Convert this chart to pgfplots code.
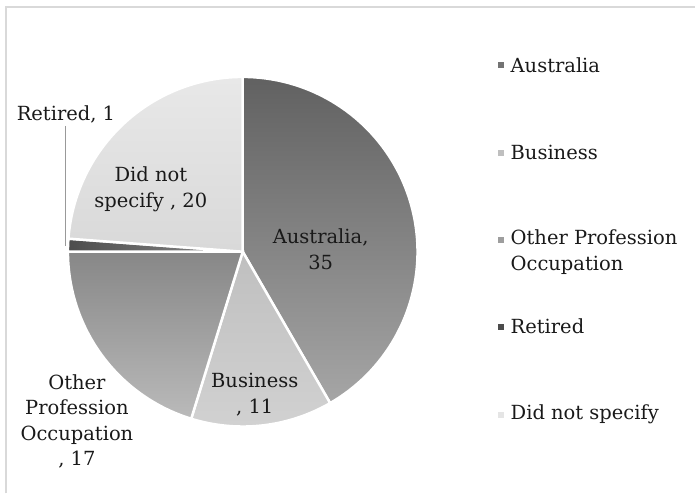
\documentclass[border=0pt]{standalone}
\usepackage{pgfplots}
\pgfplotsset{compat=1.18}
\usepackage{fontspec}
\setmainfont{DejaVu Serif}
\begin{document}
\begin{tikzpicture}[lbl/.style={font=\fontsize{19.5}{25.5}\selectfont, text=black!90, inner sep=0pt}]
\pgfmathsetmacro{\vA}{35}
\pgfmathsetmacro{\vB}{11}
\pgfmathsetmacro{\vC}{17}
\pgfmathsetmacro{\vD}{1}
\pgfmathsetmacro{\vE}{20}
\pgfmathsetmacro{\tot}{\vA+\vB+\vC+\vD+\vE}
\pgfmathsetmacro{\aA}{90}
\pgfmathsetmacro{\aB}{\aA-360*\vA/\tot}
\pgfmathsetmacro{\aC}{\aB-360*\vB/\tot}
\pgfmathsetmacro{\aD}{\aC-360*\vC/\tot}
\pgfmathsetmacro{\aE}{\aD-360*\vD/\tot}
\pgfmathsetmacro{\aF}{\aE-360*\vE/\tot}
\def\cx{243}
\def\cy{242}
\def\R{175}
\begin{axis}[hide axis, scale only axis, width=696pt, height=494pt,
  xmin=0, xmax=696, ymin=0, ymax=494, clip=false]
% frame
\draw[black!15, line width=1.5pt] (axis cs:6,0) -- (axis cs:6,487) -- (axis cs:696,487);
% slices
\addplot[draw=white, line width=2.5pt, top color=black!62, bottom color=black!35, domain=\aB:\aA, samples=80]
  ({\cx+\R*cos(x)},{\cy+\R*sin(x)}) -- (axis cs:\cx,\cy) -- cycle;
\addplot[draw=white, line width=2.5pt, top color=black!25, bottom color=black!18, domain=\aC:\aB, samples=40]
  ({\cx+\R*cos(x)},{\cy+\R*sin(x)}) -- (axis cs:\cx,\cy) -- cycle;
\addplot[draw=white, line width=2.5pt, top color=black!47, bottom color=black!27, domain=\aD:\aC, samples=60]
  ({\cx+\R*cos(x)},{\cy+\R*sin(x)}) -- (axis cs:\cx,\cy) -- cycle;
\addplot[draw=white, line width=2.5pt, left color=black!70, right color=black!45, domain=\aE:\aD, samples=10]
  ({\cx+\R*cos(x)},{\cy+\R*sin(x)}) -- (axis cs:\cx,\cy) -- cycle;
\addplot[draw=white, line width=2.5pt, top color=black!9, bottom color=black!15, domain=\aF:\aE, samples=60]
  ({\cx+\R*cos(x)},{\cy+\R*sin(x)}) -- (axis cs:\cx,\cy) -- cycle;
% data labels
\draw[black!40, line width=0.8pt] (axis cs:65,368) -- (axis cs:65,248);
\node[lbl] at (axis cs:66,379) {Retired, 1};
\node[lbl, align=center] at (axis cs:151,304.5) {Did not\\specify , 20};
\node[lbl, align=center] at (axis cs:321,244.5) {Australia,\\35};
\node[lbl, align=center] at (axis cs:255,99) {Business\\, 11};
\node[lbl, align=center] at (axis cs:77,72) {Other\\Profession\\Occupation\\, 17};
% legend
\fill[black!55] (axis cs:499,432) rectangle (axis cs:505,426);
\node[lbl, anchor=west] at (axis cs:511,429) {Australia};
\fill[black!25] (axis cs:499,344) rectangle (axis cs:505,338);
\node[lbl, anchor=west] at (axis cs:511,341) {Business};
\fill[black!38] (axis cs:499,257) rectangle (axis cs:505,251);
\node[lbl, anchor=west, align=left] at (axis cs:511,241.5) {Other Profession\\Occupation};
\fill[black!70] (axis cs:499,170) rectangle (axis cs:505,164);
\node[lbl, anchor=west] at (axis cs:511,167) {Retired};
\fill[black!10] (axis cs:499,82) rectangle (axis cs:505,76);
\node[lbl, anchor=west] at (axis cs:511,79) {Did not specify};
\end{axis}
\path (0,0) rectangle (696pt,494pt);
\end{tikzpicture}
\end{document}
